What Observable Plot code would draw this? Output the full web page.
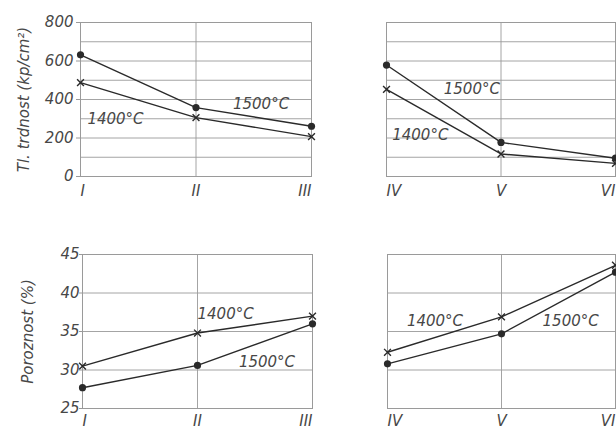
<!DOCTYPE html>
<html>
<head>
<meta charset="utf-8">
<script src="https://cdn.jsdelivr.net/npm/d3@7"></script>
<script src="https://cdn.jsdelivr.net/npm/@observablehq/plot@0.6"></script>
<style>
  html, body { margin: 0; padding: 0; background: #fff; }
  #chart { position: relative; width: 616px; height: 431px; overflow: hidden; background: #fff; }
  #chart > div { position: absolute; }
  #chart svg { max-width: none; }
</style>
</head>
<body>
<div id="chart"></div>
<script>
// Sample groups (x categories)
const samplesLeft = ["I", "II", "III"];
const samplesRight = ["IV", "V", "VI"];

// Tick labels
const strengthTicks = [0, 200, 400, 600, 800];
const strengthGrid = [0, 100, 200, 300, 400, 500, 600, 700, 800];
const porosityTicks = [25, 30, 35, 40, 45];

// Compressive strength, kp/cm², fired at 1400 °C and 1500 °C
const strength1400Left = [488, 306, 207];
const strength1500Left = [632, 358, 261];
const strength1400Right = [453, 117, 68];
const strength1500Right = [579, 177, 95];

// Porosity, %
const porosity1400Left = [30.5, 34.8, 37.0];
const porosity1500Left = [27.7, 30.6, 36.0];
const porosity1400Right = [32.3, 36.9, 43.6];
const porosity1500Right = [30.8, 34.7, 42.7];

const FONT = "'DejaVu Sans', sans-serif";
const INK = "#2a2a2a";
const TEXT = "#474747";
const GRID = "#9a9a9a";

function panel(cfg) {
  const rows = (vals) => vals.map((v, i) => ({i, v}));
  const d1400 = rows(cfg.s1400);
  const d1500 = rows(cfg.s1500);
  const xAxis = (idx, anchor) => Plot.axisX(idx, {
    tickSize: 0, tickPadding: cfg.xPad, label: null, textAnchor: anchor,
    tickFormat: (i) => cfg.cats[i], fill: TEXT, fontSize: 15
  });
  const marks = [
    Plot.gridY(cfg.grid, {stroke: GRID, strokeOpacity: 1, strokeWidth: 0.9}),
    Plot.ruleX([1], {stroke: GRID, strokeWidth: 0.9}),
    Plot.frame({stroke: GRID, strokeWidth: 1}),
    xAxis([0], "start"),
    xAxis([1], "middle"),
    xAxis([2], "end"),
    Plot.line(d1400, {x: "i", y: "v", stroke: INK, strokeWidth: 1.4}),
    Plot.line(d1500, {x: "i", y: "v", stroke: INK, strokeWidth: 1.4}),
    Plot.dot(d1500, {x: "i", y: "v", r: 3.6, fill: INK, stroke: "none"}),
    Plot.dot(d1400, {x: "i", y: "v", symbol: "times", r: 3.2, stroke: INK, strokeWidth: 1.4}),
    Plot.text(cfg.labels, {
      x: "x", y: "y", text: "t", textAnchor: "start",
      fill: TEXT, fontSize: 15, fontStyle: "italic"
    })
  ];
  if (cfg.ticks) {
    marks.push(Plot.axisY(cfg.ticks, {
      tickSize: cfg.tickSize, tickPadding: cfg.tickPad, label: null,
      stroke: GRID, fill: TEXT, fontSize: 15
    }));
  }
  if (cfg.title) {
    marks.push(Plot.text([cfg.title], {
      frameAnchor: "left", textAnchor: "middle", rotate: -90, dx: cfg.titleDx,
      fill: TEXT, fontSize: 15, fontStyle: "italic",
      letterSpacing: cfg.titleSpacing
    }));
  }
  const svg = Plot.plot({
    width: cfg.width, height: cfg.height,
    marginLeft: cfg.ml, marginRight: cfg.mr, marginTop: cfg.mt, marginBottom: cfg.mb,
    style: {fontFamily: FONT, fontStyle: "italic", fontSize: "15px", background: "transparent", overflow: "visible"},
    x: {type: "linear", domain: [0, 2], axis: null},
    y: {domain: cfg.domain, axis: null},
    marks
  });
  const box = document.createElement("div");
  box.style.left = cfg.left + "px";
  box.style.top = cfg.top + "px";
  box.appendChild(svg);
  document.getElementById("chart").appendChild(box);
}

// Compressive strength, samples I–III
panel({
  left: 0, top: 0, width: 320, height: 215, ml: 80, mr: 9, mt: 22, mb: 39,
  cats: samplesLeft, s1400: strength1400Left, s1500: strength1500Left,
  domain: [0, 800], grid: strengthGrid, ticks: strengthTicks, tickSize: 4, tickPad: 3, xPad: 9,
  title: "Tl. trdnost (kp/cm²)", titleDx: -56, titleSpacing: 0,
  labels: [{t: "1400°C", x: 0.06, y: 300}, {t: "1500°C", x: 1.32, y: 374}]
});

// Compressive strength, samples IV–VI
panel({
  left: 300, top: 0, width: 316, height: 215, ml: 86, mr: 1, mt: 22, mb: 39,
  cats: samplesRight, s1400: strength1400Right, s1500: strength1500Right,
  domain: [0, 800], grid: strengthGrid, xPad: 9,
  labels: [{t: "1500°C", x: 0.5, y: 452}, {t: "1400°C", x: 0.05, y: 213}]
});

// Porosity, samples I–III
panel({
  left: 0, top: 215, width: 320, height: 216, ml: 82, mr: 8, mt: 39, mb: 23,
  cats: samplesLeft, s1400: porosity1400Left, s1500: porosity1500Left,
  domain: [25, 45], grid: porosityTicks, ticks: porosityTicks, tickSize: 3, tickPad: 0, xPad: 7,
  title: "Poroznost (%)", titleDx: -54, titleSpacing: 1.8,
  labels: [{t: "1400°C", x: 1.0, y: 37.2}, {t: "1500°C", x: 1.36, y: 31.0}]
});

// Porosity, samples IV–VI
panel({
  left: 300, top: 215, width: 316, height: 216, ml: 87, mr: 1, mt: 39, mb: 23,
  cats: samplesRight, s1400: porosity1400Right, s1500: porosity1500Right,
  domain: [25, 45], grid: porosityTicks, xPad: 7,
  labels: [{t: "1400°C", x: 0.17, y: 36.3}, {t: "1500°C", x: 1.36, y: 36.3}]
});
</script>
</body>
</html>
